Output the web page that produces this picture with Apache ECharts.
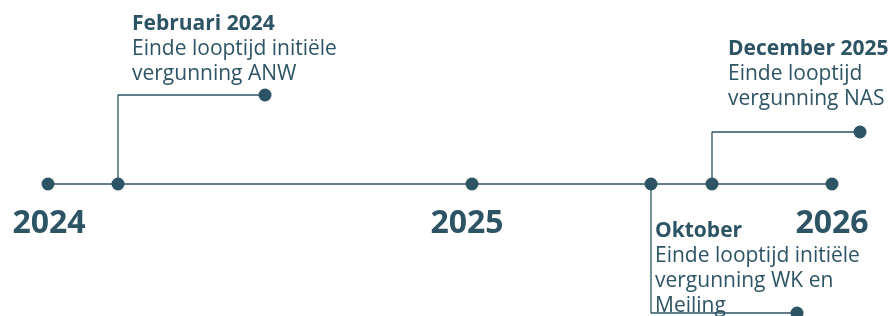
<!DOCTYPE html>
<html>
<head>
    <meta charset="UTF-8">
    <title>Tijdlijn vergunningen</title>
    <script src="https://cdn.jsdelivr.net/npm/echarts@6/dist/echarts.min.js"></script>
    <style>
        html, body {margin: 0; padding: 0; background: #fff;}
        #main {width: 891px; height: 316px;}
    </style>
</head>
<body>
<div id="main"></div>
<script type="text/javascript">
    // jaren op de tijdlijn en hun plek (tijdlijn-eenheden, 2024 = 0)
    var years = ['2024', '2025', '2026'];
    var yearPos = [0, 424, 784];

    // gebeurtenissen
    var eventTitles = ['Februari 2024', 'Oktober', 'December 2025'];
    var eventTexts = [
        'Einde looptijd initiële\nvergunning ANW',
        'Einde looptijd initiële\nvergunning WK en\nMeiling',
        'Einde looptijd\nvergunning NAS'
    ];
    var eventPos = [70, 603, 664];

    // vorm van de verbindingslijnen (hoogte boven/onder de lijn, lengte naar rechts)
    var callouts = [
        {h: 89, len: 147, tx: 14, ty: 172},
        {h: -129, len: 146, tx: 4, ty: -35},
        {h: 52, len: 148, tx: 16, ty: 147}
    ];
    // kleine verschuiving van de jaartallen (px)
    var yearShift = [1, -5, 0];

    var color = '#2d5464';
    var font = '"Open Sans", "Noto Sans", sans-serif';

    var series = [];

    // hoofdlijn
    series.push({
        type: 'line',
        data: [[yearPos[0], 0], [yearPos[yearPos.length - 1], 0]],
        symbol: 'none',
        lineStyle: {color: color, width: 1.6},
        silent: true,
        z: 1
    });

    // verbindingslijnen
    eventPos.forEach(function (p, i) {
        var c = callouts[i];
        series.push({
            type: 'line',
            data: [
                {value: [p, 0], symbol: 'none'},
                {value: [p, c.h], symbol: 'none'},
                {value: [p + c.len, c.h]}
            ],
            symbol: 'circle',
            symbolSize: 13,
            showSymbol: true,
            itemStyle: {color: color, opacity: 1},
            lineStyle: {color: color, width: 1.3},
            clip: false,
            silent: true,
            z: 1
        });
    });

    // punten op de tijdlijn
    var dots = yearPos.concat(eventPos).map(function (p) { return [p, 0]; });
    series.push({
        type: 'scatter',
        data: dots,
        symbolSize: 13,
        itemStyle: {color: color, opacity: 1},
        silent: true,
        z: 3
    });

    // jaartallen
    series.push({
        type: 'scatter',
        data: years.map(function (y, i) {
            return {value: [yearPos[i], 0], name: y, label: {offset: [yearShift[i], 0]}};
        }),
        symbolSize: 0,
        itemStyle: {opacity: 1},
        label: {
            show: true,
            position: 'bottom',
            distance: 24,
            formatter: '{b}',
            color: color,
            fontFamily: font,
            fontWeight: 'bold',
            fontSize: 32
        },
        silent: true,
        z: 4
    });

    // teksten bij de gebeurtenissen
    series.push({
        type: 'scatter',
        data: eventTitles.map(function (t, i) {
            return {value: [eventPos[i] + callouts[i].tx, callouts[i].ty], name: t, text: eventTexts[i]};
        }),
        symbolSize: 0,
        itemStyle: {opacity: 1},
        label: {
            show: true,
            position: [0, 0],
            align: 'left',
            verticalAlign: 'top',
            formatter: function (p) {
                return '{t|' + p.name + '}\n' + p.data.text.split('\n').map(function (s) {
                    return '{s|' + s + '}';
                }).join('\n');
            },
            rich: {
                t: {color: color, fontFamily: font, fontWeight: 'bold', fontSize: 21, lineHeight: 25},
                s: {color: color, fontFamily: font, fontSize: 21, lineHeight: 25}
            }
        },
        silent: true,
        z: 4
    });

    var myChart = echarts.init(document.getElementById('main'));
    myChart.setOption({
        animation: false,
        grid: {left: 0, right: 0, top: 0, bottom: 0},
        xAxis: {type: 'value', min: -48, max: 843, show: false},
        yAxis: {type: 'value', min: -132, max: 184, show: false},
        series: series
    });
</script>
</body>
</html>
